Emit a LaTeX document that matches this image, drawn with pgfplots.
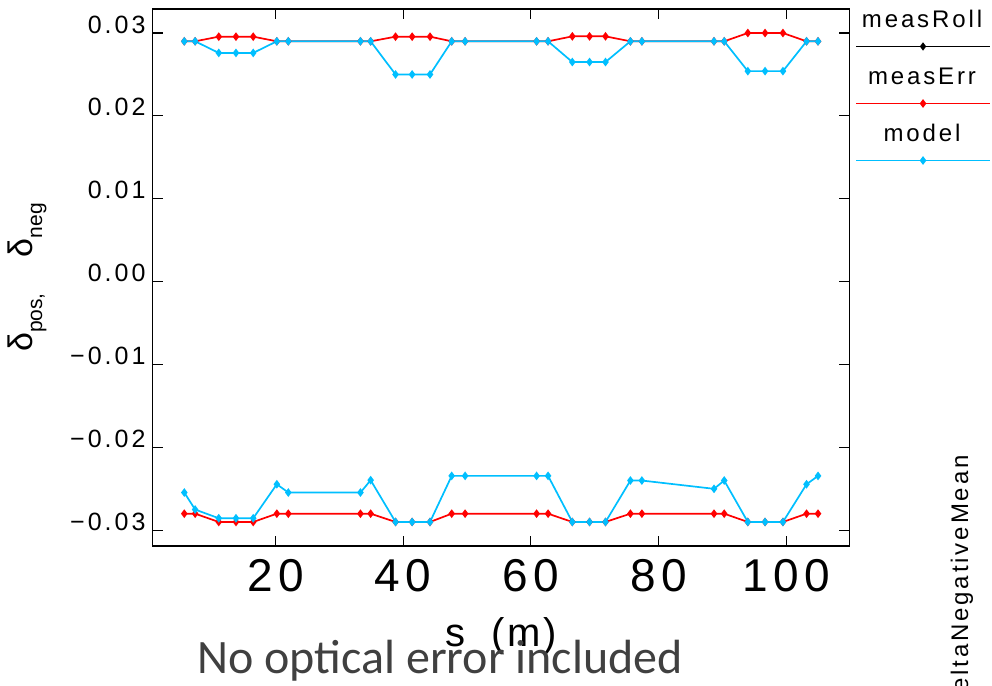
\documentclass[border=0pt]{standalone}
\usepackage{fontspec}
\setmainfont{Liberation Sans}
\newfontfamily\hf[LetterSpace=12]{Liberation Sans}
\newfontfamily\cf{Carlito}
\usepackage{pgfplots}
\usepackage{pgfplotstable}
\pgfplotsset{compat=1.18}
\definecolor{mred}{RGB}{255,0,0}
\definecolor{mblue}{RGB}{0,191,255}
\definecolor{capgray}{RGB}{64,64,64}

\pgfplotstableread{
s pos neg
5.7 0.0290 -0.0280
7.4 0.0290 -0.0280
11.1 0.02956 -0.0290
13.8 0.02956 -0.0290
16.5 0.02956 -0.0290
20.2 0.0290 -0.0280
22.0 0.0290 -0.0280
33.3 0.0290 -0.0280
34.9 0.0290 -0.0280
38.8 0.02956 -0.0290
41.4 0.02956 -0.0290
44.2 0.02956 -0.0290
47.6 0.0290 -0.0280
49.7 0.0290 -0.0280
60.9 0.0290 -0.0280
62.7 0.0290 -0.0280
66.5 0.02960 -0.0290
69.2 0.02960 -0.0290
71.7 0.02960 -0.0290
75.6 0.0290 -0.0280
77.4 0.0290 -0.0280
88.7 0.0290 -0.0280
90.3 0.0290 -0.0280
94.0 0.0300 -0.0290
96.7 0.0300 -0.0290
99.5 0.0300 -0.0290
103.2 0.0290 -0.0280
105.0 0.0290 -0.0280
}\errtab

\pgfplotstableread{
s pos neg
5.7 0.0290 -0.02545
7.4 0.0290 -0.0275
11.1 0.0276 -0.02855
13.8 0.0276 -0.02855
16.5 0.0276 -0.02855
20.2 0.0290 -0.02445
22.0 0.0290 -0.02545
33.3 0.0290 -0.02545
34.9 0.0290 -0.02396
38.8 0.0250 -0.0290
41.4 0.0250 -0.0290
44.2 0.0250 -0.0290
47.6 0.0290 -0.02344
49.7 0.0290 -0.02344
60.9 0.0290 -0.02344
62.7 0.0290 -0.02344
66.5 0.0265 -0.0290
69.2 0.0265 -0.0290
71.7 0.0265 -0.0290
75.6 0.0290 -0.0240
77.4 0.0290 -0.0240
88.7 0.0290 -0.0250
90.3 0.0290 -0.0240
94.0 0.0254 -0.0290
96.7 0.0254 -0.0290
99.5 0.0254 -0.0290
103.2 0.0290 -0.02445
105.0 0.0290 -0.02344
}\modeltab

\begin{document}
\begin{tikzpicture}
\begin{axis}[
  at={(152.7pt,139pt)}, anchor=south west,
  scale only axis, width=696.6pt, height=537pt,
  xmin=0.75, xmax=109.9, ymin=-0.0319, ymax=0.0329,
  axis line style={line width=1.2pt},
  every tick/.style={black, line width=1.2pt},
  tick align=inside, major tick length=10pt,
  xtick={20,40,60,80,100}, xticklabels={20,40,60,80,100},
  ytick={-0.03,-0.02,-0.01,0,0.01,0.02,0.03},
  yticklabels={−0.03,−0.02,−0.01,0.00,0.01,0.02,0.03},
  scaled y ticks=false, scaled x ticks=false,
  xticklabel style={font=\hf\fontsize{46}{46}\selectfont, inner sep=0pt, anchor=north, yshift=-13pt},
  yticklabel style={font=\hf\fontsize{25}{25}\selectfont, inner sep=0pt, anchor=base east, xshift=-7pt},
  xlabel={s\hspace{26pt}(\hspace{3pt}m\hspace{3pt})},
  xlabel style={font=\hf\fontsize{40}{40}\selectfont, at={(axis description cs:0.5,-0.188)}, anchor=base, inner sep=0pt},
  ylabel={δ\raisebox{-10pt}{\fontsize{21}{21}\selectfont pos,}\hspace{36pt}δ\raisebox{-10pt}{\fontsize{21}{21}\selectfont neg}},
  ylabel style={font=\fontsize{34}{34}\selectfont, at={(axis description cs:-0.1805,0.5)}, anchor=center, inner sep=0pt},
  legend style={at={(axis description cs:1.0111,0.9963)}, anchor=north west, draw=none, fill=none,
    inner sep=0pt, outer sep=0pt, row sep=40pt, column sep=0pt,
    cells={anchor=base west},
    nodes={inner sep=0pt, text height=17pt, text depth=0pt, font=\hf\fontsize{24}{24}\selectfont}},
  legend image code/.code={\draw[overlay,mark repeat=2,mark phase=2,#1] plot coordinates {(-1pt,-18.5pt) (66pt,-18.5pt) (133pt,-18.5pt)};},
]
\addlegendimage{black, line width=1.7pt, mark=diamond*, mark size=2.8pt}
\addlegendentry{\makebox[130pt][c]{measRoll}}
\addplot[mred, line width=1.7pt, mark=diamond*, mark size=3pt] table[x=s,y=pos]{\errtab};
\addlegendentry{\makebox[130pt][c]{measErr}}
\addplot[mred, line width=1.7pt, mark=diamond*, mark size=3pt, forget plot] table[x=s,y=neg]{\errtab};
\addplot[mblue, line width=1.7pt, mark=diamond*, mark size=3pt] table[x=s,y=pos]{\modeltab};
\addlegendentry{\makebox[130pt][c]{model}}
\addplot[mblue, line width=1.7pt, mark=diamond*, mark size=3pt, forget plot] table[x=s,y=neg]{\modeltab};
\end{axis}
\node[font=\cf\fontsize{48}{48}\selectfont, text=capgray, anchor=base west, inner sep=0pt] at (197pt,12pt) {No optical error included};
\node[font=\hf\fontsize{24}{24}\selectfont, rotate=90, anchor=base east, inner sep=0pt] at (968pt,230pt) {deltaNegativeMean};
\pgfresetboundingbox
\path[use as bounding box] (0pt,0pt) rectangle (992pt,685pt);
\end{tikzpicture}
\end{document}
